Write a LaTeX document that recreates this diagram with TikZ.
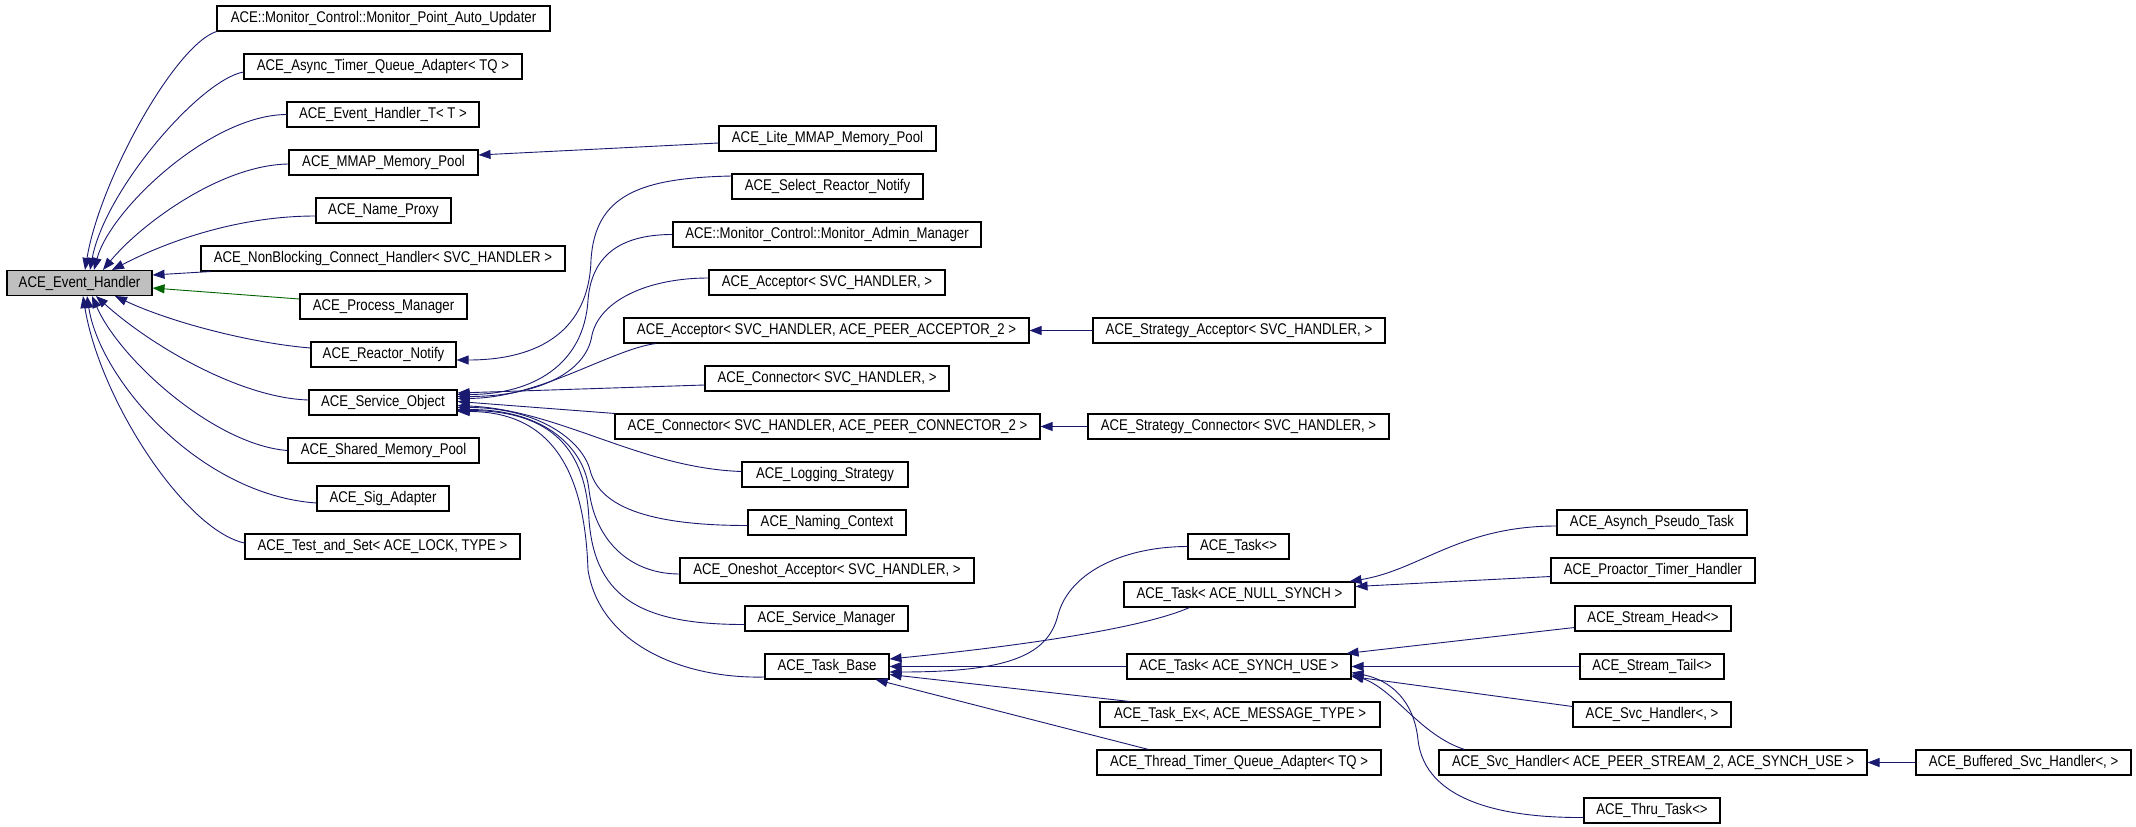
\documentclass[tikz,border=0pt]{standalone}
\usepackage{fontspec}
\setmainfont{Liberation Sans}[FakeStretch=0.85]
\usetikzlibrary{arrows.meta,calc}
\definecolor{navy}{HTML}{191970}
\definecolor{dgreen}{HTML}{006400}
\definecolor{ehgrey}{HTML}{BFBFBF}
\begin{document}
\begin{tikzpicture}[x=1pt,y=-1pt,
  box/.style={draw=black, line width=1.1pt, minimum height=25pt, inner sep=0pt, anchor=center, font=\fontsize{15.5}{17}\selectfont},
  inh/.style={draw=navy, line width=0.9pt, -{Triangle[length=12pt,width=9pt]}},
  inhg/.style={draw=dgreen, line width=0.9pt, -{Triangle[length=12pt,width=9pt]}}]
\useasboundingbox (0,0) rectangle (2136,827);
\fill[white] (0,0) rectangle (2136,827);
% column 1
\node[box,minimum width=145pt,fill=ehgrey] (eh) at (79.5,283) {ACE\_Event\_Handler};
% column 2
\node[box,minimum width=333pt] (mpau) at (383.5,18.5) {ACE::Monitor\_Control::Monitor\_Point\_Auto\_Updater};
\node[box,minimum width=278pt] (atqa) at (383,66.5) {ACE\_Async\_Timer\_Queue\_Adapter< TQ >};
\node[box,minimum width=192pt] (eht) at (383,114.5) {ACE\_Event\_Handler\_T< T >};
\node[box,minimum width=189pt] (mmap) at (383.5,162.5) {ACE\_MMAP\_Memory\_Pool};
\node[box,minimum width=135pt] (np) at (383.5,210.5) {ACE\_Name\_Proxy};
\node[box,minimum width=364pt] (nbch) at (383,258.5) {ACE\_NonBlocking\_Connect\_Handler< SVC\_HANDLER >};
\node[box,minimum width=167pt] (pm) at (383.5,306.5) {ACE\_Process\_Manager};
\node[box,minimum width=145pt] (rn) at (383.5,354.5) {ACE\_Reactor\_Notify};
\node[box,minimum width=148pt] (so) at (383,402.5) {ACE\_Service\_Object};
\node[box,minimum width=191pt] (smp) at (383.5,450.5) {ACE\_Shared\_Memory\_Pool};
\node[box,minimum width=132pt] (sa) at (383,498.5) {ACE\_Sig\_Adapter};
\node[box,minimum width=275pt] (tas) at (382.5,546.5) {ACE\_Test\_and\_Set< ACE\_LOCK, TYPE >};
% column 3
\node[box,minimum width=217pt] (lmmap) at (827.5,138.5) {ACE\_Lite\_MMAP\_Memory\_Pool};
\node[box,minimum width=191pt] (srn) at (827.5,186.5) {ACE\_Select\_Reactor\_Notify};
\node[box,minimum width=308pt] (mam) at (827,234.5) {ACE::Monitor\_Control::Monitor\_Admin\_Manager};
\node[box,minimum width=236pt] (acc1) at (827,282.5) {ACE\_Acceptor< SVC\_HANDLER, >};
\node[box,minimum width=405pt] (acc2) at (826.5,330.5) {ACE\_Acceptor< SVC\_HANDLER, ACE\_PEER\_ACCEPTOR\_2 >};
\node[box,minimum width=244pt] (con1) at (827,378.5) {ACE\_Connector< SVC\_HANDLER, >};
\node[box,minimum width=425pt] (con2) at (827.5,426.5) {ACE\_Connector< SVC\_HANDLER, ACE\_PEER\_CONNECTOR\_2 >};
\node[box,minimum width=166pt] (ls) at (825,474.5) {ACE\_Logging\_Strategy};
\node[box,minimum width=158pt] (nc) at (827,522.5) {ACE\_Naming\_Context};
\node[box,minimum width=294pt] (oa) at (827,570.5) {ACE\_Oneshot\_Acceptor< SVC\_HANDLER, >};
\node[box,minimum width=163pt] (sm) at (826.5,618.5) {ACE\_Service\_Manager};
\node[box,minimum width=124pt] (tb) at (827,666.5) {ACE\_Task\_Base};
% column 4
\node[box,minimum width=292pt] (sacc) at (1239,330.5) {ACE\_Strategy\_Acceptor< SVC\_HANDLER, >};
\node[box,minimum width=301pt] (scon) at (1238.5,426.5) {ACE\_Strategy\_Connector< SVC\_HANDLER, >};
\node[box,minimum width=101pt] (task0) at (1238.5,546.5) {ACE\_Task<>};
\node[box,minimum width=231pt] (tnull) at (1239.5,594.5) {ACE\_Task< ACE\_NULL\_SYNCH >};
\node[box,minimum width=224pt] (tsynch) at (1239,666.5) {ACE\_Task< ACE\_SYNCH\_USE >};
\node[box,minimum width=280pt] (tex) at (1240,714.5) {ACE\_Task\_Ex<, ACE\_MESSAGE\_TYPE >};
\node[box,minimum width=284pt] (ttqa) at (1239,762.5) {ACE\_Thread\_Timer\_Queue\_Adapter< TQ >};
% column 5
\node[box,minimum width=190pt] (apt) at (1652,522.5) {ACE\_Asynch\_Pseudo\_Task};
\node[box,minimum width=204pt] (pth) at (1653,570.5) {ACE\_Proactor\_Timer\_Handler};
\node[box,minimum width=156pt] (sh) at (1653,618.5) {ACE\_Stream\_Head<>};
\node[box,minimum width=144pt] (st) at (1652,666.5) {ACE\_Stream\_Tail<>};
\node[box,minimum width=158pt] (svc1) at (1652,714.5) {ACE\_Svc\_Handler<, >};
\node[box,minimum width=428pt] (svc2) at (1653,762.5) {ACE\_Svc\_Handler< ACE\_PEER\_STREAM\_2, ACE\_SYNCH\_USE >};
\node[box,minimum width=136pt] (tt) at (1652,810.5) {ACE\_Thru\_Task<>};
% column 6
\node[box,minimum width=215pt] (bsh) at (2023.5,762.5) {ACE\_Buffered\_Svc\_Handler<, >};

% edges to ACE_Event_Handler
\draw[inh] (mpau.south west) .. controls (175,45) and (100,180) .. ($(eh.north)+(5.5,0)$);
\draw[inh] ($(atqa.west)+(0,5.5)$) .. controls (200,80) and (105,190) .. ($(eh.north)+(10.5,0)$);
\draw[inh] (eht.west) .. controls (210,115) and (110,210) .. ($(eh.north)+(14.5,0)$);
\draw[inh] ($(mmap.west)+(0,1.5)$) .. controls (220,165) and (140,225) .. ($(eh.north)+(23.5,0)$);
\draw[inh] ($(np.west)+(0,5.5)$) .. controls (240,216) and (170,240) .. ($(eh.north)+(32.5,0)$);
\draw[inh] ($(nbch.south west)+(10,0)$) -- ($(eh.east)+(0,-8)$);
\draw[inhg] ($(pm.west)+(0,-7.5)$) -- ($(eh.east)+(0,5)$);
\draw[inh] ($(rn.west)+(0,-6.5)$) .. controls (250,343) and (170,322) .. ($(eh.south)+(35.5,0)$);
\draw[inh] ($(so.west)+(0,-2.5)$) .. controls (240,398) and (150,345) .. ($(eh.south)+(16.5,0)$);
\draw[inh] (smp.west) .. controls (215,445) and (120,360) .. ($(eh.south)+(12.5,0)$);
\draw[inh] ($(sa.west)+(0,4.5)$) .. controls (200,495) and (100,380) .. ($(eh.south)+(7.5,0)$);
\draw[inh] ($(tas.west)+(0,-3.5)$) .. controls (185,530) and (100,400) .. ($(eh.south)+(3.5,0)$);

% second level
\draw[inh] ($(lmmap.west)+(0,4.5)$) -- ($(mmap.east)+(0,-7.5)$);
\draw[inh] ($(srn.west)+(0,-10.5)$) .. controls (640,178) and (595,195) .. (591,260) .. controls (589,330) and (540,360) .. ($(rn.east)+(0,5.5)$);

% edges to ACE_Service_Object
\draw[inh] (mam.west) .. controls +(-45,0) and (592,250) .. (588,300) .. controls (584,365) and +(75,0) .. ($(so.east)+(0,-8)$);
\draw[inh] ($(acc1.west)+(0,-4.5)$) .. controls +(-60,0) and (600,300) .. (592,335) .. controls (586,375) and +(75,0) .. ($(so.east)+(0,-6)$);
\draw[inh] ($(acc2.south west)+(32,0)$) .. controls (610,350) and (540,398) .. ($(so.east)+(0,-4)$);
\draw[inh] ($(con1.west)+(0,6.5)$) -- ($(so.east)+(0,-9.5)$);
\draw[inh] (con2.north west) -- ($(so.east)+(0,-1)$);
\draw[inh] ($(ls.west)+(0,-3)$) .. controls (640,468) and (560,410) .. ($(so.east)+(0,3)$);
\draw[inh] ($(nc.west)+(0,3)$) .. controls +(-90,0) and (600,510) .. (590,470) .. controls (582,440) and +(80,0) .. ($(so.east)+(0,5)$);
\draw[inh] ($(oa.west)+(0,3.5)$) .. controls +(-50,0) and (595,540) .. (589,490) .. controls (585,450) and +(90,0) .. ($(so.east)+(0,7)$);
\draw[inh] ($(sm.west)+(0,6)$) .. controls +(-100,0) and (595,600) .. (589,520) .. controls (586,450) and +(95,0) .. ($(so.east)+(0,8)$);
\draw[inh] ($(tb.west)+(0,10.5)$) .. controls +(-80,2) and (600,645) .. (588,570) .. controls (585,480) and +(100,0) .. ($(so.east)+(0,9)$);

% strategy classes
\draw[inh] (sacc.west) -- (acc2.east);
\draw[inh] (scon.west) -- (con2.east);

% edges to ACE_Task_Base
\draw[inh] (task0.west) .. controls +(-60,0) and (1070,570) .. (1058,615) .. controls (1048,655) and +(120,0) .. ($(tb.east)+(0,5.5)$);
\draw[inh] ($(tnull.south west)+(66,0)$) .. controls (1150,625) and (1050,643) .. ($(tb.east)+(0,-7.5)$);
\draw[inh] (tsynch.west) -- (tb.east);
\draw[inh] ($(tex.north west)+(30,0)$) -- ($(tb.east)+(0,8)$);
\draw[inh] ($(ttqa.north west)+(52,0)$) -- ($(tb.south east)+(-14,0)$);

% edges to ACE_Task<ACE_NULL_SYNCH>
\draw[inh] ($(apt.west)+(0,3.5)$) .. controls (1460,526) and (1420,570) .. ($(tnull.north east)+(-6,0)$);
\draw[inh] ($(pth.west)+(0,6)$) -- ($(tnull.east)+(0,-8)$);

% edges to ACE_Task<ACE_SYNCH_USE>
\draw[inh] ($(sh.west)+(0,9)$) -- ($(tsynch.north east)+(-5,0)$);
\draw[inh] (st.west) -- (tsynch.east);
\draw[inh] ($(svc1.west)+(0,-8)$) -- ($(tsynch.east)+(0,10)$);
\draw[inh] ($(svc2.north west)+(26,0)$) .. controls (1420,735) and (1395,690) .. ($(tsynch.east)+(0,8)$);
\draw[inh] ($(tt.west)+(0,7)$) .. controls (1500,818) and (1425,800) .. (1418,740) .. controls (1414,700) and (1390,680) .. ($(tsynch.east)+(0,6)$);

\draw[inh] (bsh.west) -- (svc2.east);
\end{tikzpicture}
\end{document}
